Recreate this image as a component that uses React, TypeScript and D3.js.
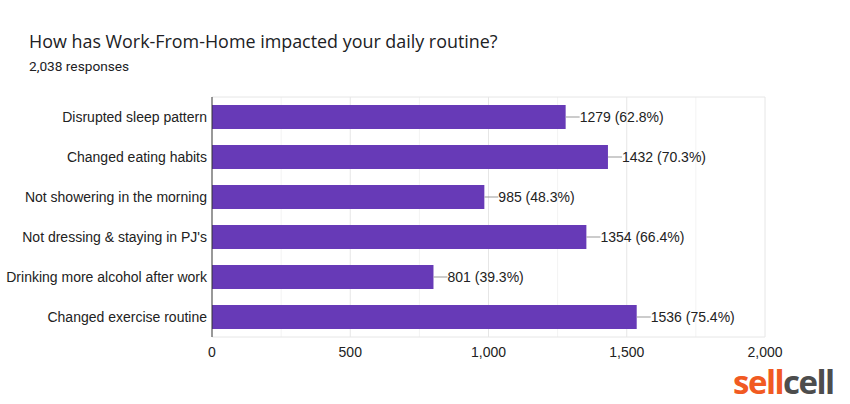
import React from "react";
import * as d3 from "d3";

const categories = [
  "Disrupted sleep pattern",
  "Changed eating habits",
  "Not showering in the morning",
  "Not dressing & staying in PJ's",
  "Drinking more alcohol after work",
  "Changed exercise routine",
];
const counts = [1279, 1432, 985, 1354, 801, 1536];
const percents = ["62.8%", "70.3%", "48.3%", "66.4%", "39.3%", "75.4%"];
const xTicks = [0, 500, 1000, 1500, 2000];
const minorTicks = [250, 750, 1250, 1750];
const title = "How has Work-From-Home impacted your daily routine?";
const subtitle = "2,038 responses";

export default function App() {
  const W = 850, H = 404;
  const left = 212, right = 765, top = 97, bottom = 337;
  const x = d3.scaleLinear().domain([0, 2000]).range([left, right]);
  const y = d3.scaleBand<string>().domain(categories).range([top, bottom]).paddingInner(0.4).paddingOuter(0.2);
  const fmt = d3.format(",");
  const font = "Arial, 'Liberation Sans', sans-serif";
  return (
    <svg width={W} height={H} style={{ position: "absolute", left: 0, top: 0, background: "#fff" }}>
      <rect width={W} height={H} fill="#fff" />
      <text x={29} y={48} fontFamily="'Open Sans', Roboto, sans-serif" fontSize={17.9} fill="#202124">{title}</text>
      <text x={29} y={71} fontFamily="Roboto, sans-serif" fontSize={13.7} fill="#202124">{subtitle}</text>
      {minorTicks.map((t) => (
        <line key={"m" + t} x1={x(t)} x2={x(t)} y1={top} y2={bottom} stroke="#f3f3f3" />
      ))}
      {xTicks.slice(1).map((t) => (
        <line key={"g" + t} x1={x(t)} x2={x(t)} y1={top} y2={bottom} stroke="#e6e6e6" />
      ))}
      <line x1={left} x2={right} y1={top} y2={top} stroke="#e6e6e6" />
      <line x1={left} x2={right} y1={bottom} y2={bottom} stroke="#e6e6e6" />
      {categories.map((c, i) => {
        const yy = y(c)!;
        const bh = y.bandwidth();
        const xe = x(counts[i]);
        return (
          <g key={c}>
            <rect x={left} y={yy} width={xe - left} height={bh} fill="#673ab7" />
            <line x1={xe} x2={xe + 14} y1={yy + bh / 2} y2={yy + bh / 2} stroke="#999" />
            <text x={xe + 14} y={yy + bh / 2} dy="0.35em" fontFamily={font} fontSize={14} fill="#222">
              {`${counts[i]} (${percents[i]})`}
            </text>
            <text x={left - 5} y={yy + bh / 2} dy="0.35em" textAnchor="end" fontFamily={font} fontSize={14} fill="#222">
              {c}
            </text>
          </g>
        );
      })}
      <line x1={left} x2={left} y1={top} y2={bottom} stroke="#333" />
      {xTicks.map((t) => (
        <text key={"t" + t} x={x(t)} y={357} textAnchor="middle" fontFamily={font} fontSize={14} fill="#222">
          {fmt(t)}
        </text>
      ))}
      <text x={733} y={394} fontFamily="'Open Sans', Arial, sans-serif" fontWeight={700} fontSize={33} letterSpacing={-1.5}>
        <tspan fill="#f15a22">sell</tspan>
        <tspan fill="#4d4d4d">cell</tspan>
      </text>
    </svg>
  );
}
